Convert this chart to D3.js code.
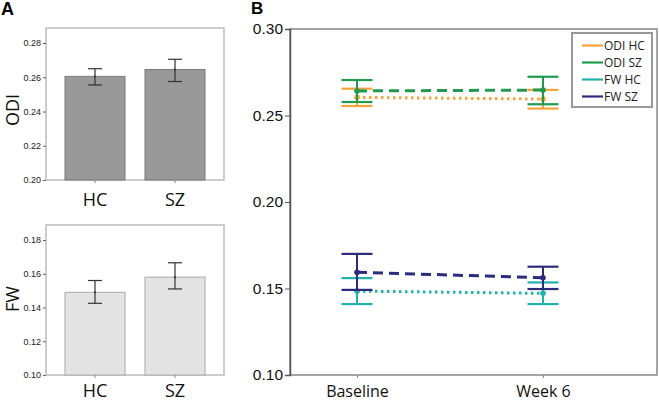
<!DOCTYPE html>
<html><head><meta charset="utf-8">
<script src="https://cdn.jsdelivr.net/npm/d3@7"></script>
<style>body{margin:0;background:#fff}svg{display:block}</style>
</head><body><svg id="c" width="659" height="401"></svg>
<script>
// ---- data ----
const groups = ["HC", "SZ"];
const odiMean = [0.2605, 0.2645];
const odiLo = [0.2555, 0.2575];
const odiHi = [0.2650, 0.2705];
const fwMean = [0.1490, 0.1580];
const fwLo = [0.1425, 0.1510];
const fwHi = [0.1560, 0.1665];
const odiTicks = [0.20, 0.22, 0.24, 0.26, 0.28];
const fwTicks = [0.10, 0.12, 0.14, 0.16, 0.18];

const timepoints = ["Baseline", "Week 6"];
const seriesNames = ["ODI HC", "ODI SZ", "FW HC", "FW SZ"];
const odiHCMean = [0.2605, 0.2595];
const odiHCLo = [0.2555, 0.2540];
const odiHCHi = [0.2655, 0.2648];
const odiSZMean = [0.2642, 0.2647];
const odiSZLo = [0.2578, 0.2565];
const odiSZHi = [0.2705, 0.2724];
const fwHCMean = [0.1485, 0.1472];
const fwHCLo = [0.1410, 0.1410];
const fwHCHi = [0.1560, 0.1535];
const fwSZMean = [0.1594, 0.1562];
const fwSZLo = [0.1492, 0.1497];
const fwSZHi = [0.1700, 0.1626];
const bTicks = [0.10, 0.15, 0.20, 0.25, 0.30];

const svg = d3.select("#c");

// ---- panel labels ----
svg.append("text").attr("x", 1).attr("y", 15).text("A")
  .attr("font-family", "Arial, Liberation Sans").attr("font-weight", "bold").attr("font-size", 18);
svg.append("text").attr("x", 251).attr("y", 14).text("B")
  .attr("font-family", "Arial, Liberation Sans").attr("font-weight", "bold").attr("font-size", 17);

// ---- panel A bar charts ----
function barPanel(opts) {
  const g = svg.append("g");
  const x = d3.scaleBand().domain(groups).range([55, 215]).paddingInner(0.25).paddingOuter(0.125);
  const y = d3.scaleLinear().domain(opts.domain).range(opts.range);
  g.append("rect").attr("x", 46).attr("y", opts.top).attr("width", 178).attr("height", opts.range[0] - opts.top)
    .attr("fill", "none").attr("stroke", "#bdbdbd").attr("stroke-width", 1.5);
  g.selectAll("rect.bar").data(groups).join("rect").attr("class", "bar")
    .attr("x", d => x(d)).attr("width", x.bandwidth())
    .attr("y", (d, i) => y(opts.mean[i])).attr("height", (d, i) => y(opts.domain[0]) - y(opts.mean[i]))
    .attr("fill", opts.fill).attr("stroke", opts.stroke).attr("stroke-width", 1);
  const cx = d => x(d) + x.bandwidth() / 2;
  groups.forEach((d, i) => {
    const c = cx(d);
    g.append("line").attr("x1", c).attr("x2", c).attr("y1", y(opts.lo[i])).attr("y2", y(opts.hi[i]))
      .attr("stroke", "#333").attr("stroke-width", 1.2);
    [opts.lo[i], opts.hi[i]].forEach(v => g.append("line").attr("x1", c - 7).attr("x2", c + 7)
      .attr("y1", y(v)).attr("y2", y(v)).attr("stroke", "#333").attr("stroke-width", 1.2));
    g.append("circle").attr("cx", c).attr("cy", y(opts.mean[i])).attr("r", 1).attr("fill", "#333");
  });
  const ya = g.append("g").attr("transform", "translate(46,0)")
    .call(d3.axisLeft(y).tickValues(opts.ticks).tickFormat(d3.format(".2f")).tickSize(3).tickPadding(2));
  ya.select(".domain").remove();
  ya.selectAll("line").attr("stroke", "#666");
  ya.selectAll("text").attr("font-family", "Arial, Liberation Sans").attr("font-size", 9).attr("fill", "#222");
  const xa = g.append("g").attr("transform", `translate(0,${opts.range[0]})`)
    .call(d3.axisBottom(x).tickSize(3).tickPadding(opts.xPad));
  xa.select(".domain").remove();
  xa.selectAll("line").attr("stroke", "#888");
  xa.selectAll("text").attr("font-family", "Open Sans").attr("font-size", 18).attr("fill", "#111");
  g.append("text").attr("transform", `translate(19,${opts.labelY}) rotate(-90)`).attr("text-anchor", "middle")
    .attr("font-family", "Open Sans").attr("font-size", 18).attr("fill", "#111").text(opts.label);
}
barPanel({domain: [0.20, 0.28], range: [180, 43], top: 28, mean: odiMean, lo: odiLo, hi: odiHi,
  ticks: odiTicks, fill: "#999999", stroke: "#7a7a7a", label: "ODI", labelY: 110, xPad: 10});
barPanel({domain: [0.10, 0.18], range: [375, 240], top: 225, mean: fwMean, lo: fwLo, hi: fwHi,
  ticks: fwTicks, fill: "#e3e3e3", stroke: "#a8a8a8", label: "FW", labelY: 299, xPad: 6});

// ---- panel B ----
const xb = d3.scalePoint().domain(timepoints).range([357, 543]);
const yb = d3.scaleLinear().domain([0.10, 0.30]).range([375, 29]);
const gb = svg.append("g");
gb.append("rect").attr("x", 290).attr("y", 29).attr("width", 367).attr("height", 346)
  .attr("fill", "none").attr("stroke", "#888").attr("stroke-width", 1.5);
const yax = gb.append("g").attr("transform", "translate(290,0)")
  .call(d3.axisLeft(yb).tickValues(bTicks).tickFormat(d3.format(".2f")).tickSize(5).tickPadding(2));
yax.select(".domain").attr("stroke", "#555").attr("stroke-width", 1.5);
yax.selectAll("line").attr("stroke", "#555");
yax.selectAll("text").attr("font-family", "Arial, Liberation Sans").attr("font-size", 15.5).attr("fill", "#111");
const xax = gb.append("g").attr("transform", "translate(0,375)")
  .call(d3.axisBottom(xb).tickSize(3).tickPadding(8));
xax.select(".domain").remove();
xax.selectAll("line").attr("stroke", "#888");
xax.selectAll("text").attr("font-family", "Open Sans").attr("font-size", 16).attr("fill", "#111");

const colors = ["#f5a43c", "#1f9a4f", "#22b1ab", "#2c2b7c"];
const series = [
  {name: seriesNames[0], mean: odiHCMean, lo: odiHCLo, hi: odiHCHi, color: colors[0], dash: "2.5,3.5"},
  {name: seriesNames[1], mean: odiSZMean, lo: odiSZLo, hi: odiSZHi, color: colors[1], dash: "10,6"},
  {name: seriesNames[2], mean: fwHCMean, lo: fwHCLo, hi: fwHCHi, color: colors[2], dash: "2.5,3.5"},
  {name: seriesNames[3], mean: fwSZMean, lo: fwSZLo, hi: fwSZHi, color: colors[3], dash: "10,6"}
];
series.forEach(s => {
  const g = gb.append("g");
  timepoints.forEach((t, i) => {
    const c = xb(t);
    g.append("line").attr("x1", c).attr("x2", c).attr("y1", yb(s.lo[i])).attr("y2", yb(s.hi[i]))
      .attr("stroke", s.color).attr("stroke-width", 2);
    [s.lo[i], s.hi[i]].forEach(v => g.append("line").attr("x1", c - 15.5).attr("x2", c + 15.5)
      .attr("y1", yb(v)).attr("y2", yb(v)).attr("stroke", s.color).attr("stroke-width", 2.2));
  });
  g.append("path").datum(timepoints.map((t, i) => [xb(t), yb(s.mean[i])]))
    .attr("d", d3.line()).attr("fill", "none").attr("stroke", s.color).attr("stroke-width", 3)
    .attr("stroke-dasharray", s.dash);
  timepoints.forEach((t, i) => g.append("circle").attr("cx", xb(t)).attr("cy", yb(s.mean[i])).attr("r", 2.8)
    .attr("fill", s.color));
});

const lg = gb.append("g");
lg.append("rect").attr("x", 572).attr("y", 33).attr("width", 80).attr("height", 74)
  .attr("fill", "#fff").attr("stroke", "#999").attr("stroke-width", 2);
series.forEach((s, i) => {
  const yy = 45.5 + i * 17;
  lg.append("line").attr("x1", 582).attr("x2", 603).attr("y1", yy).attr("y2", yy)
    .attr("stroke", s.color).attr("stroke-width", 2.2);
  lg.append("text").attr("x", 604).attr("y", yy + 4.5).text(s.name)
    .attr("font-family", "Open Sans").attr("font-size", 12).attr("fill", "#222");
});
</script></body></html>
